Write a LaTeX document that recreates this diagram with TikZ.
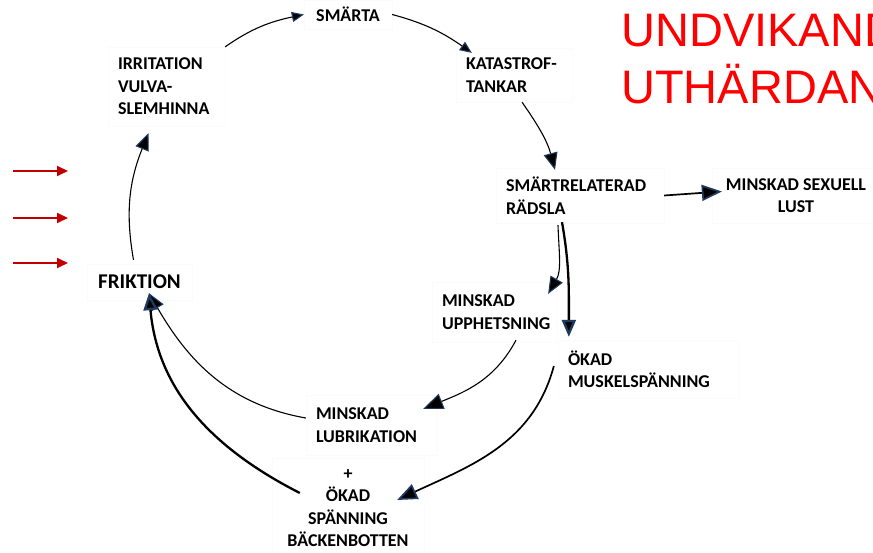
\documentclass[tikz,border=0pt]{standalone}
\usepackage{fontspec}
\setmainfont{Carlito}
\newfontfamily\redfont{Liberation Sans}
\usetikzlibrary{arrows.meta}
\definecolor{tipedge}{HTML}{1F3A5F}
\definecolor{darkred}{HTML}{C00000}
\definecolor{textred}{HTML}{FF0000}
\definecolor{faintedge}{HTML}{FBFBFB}
\tikzset{
  lbl/.style={draw=faintedge, line width=0.3pt, fill=white, font=\fontsize{18}{22.5}\selectfont\bfseries, inner sep=0pt},
  lblleft/.style={lbl, align=left, inner xsep=10pt},
  lblmid/.style={lbl, align=center},
  tipS/.style={-{Triangle[length=12pt,width=10pt,fill=black,color=tipedge]}},
  tipM/.style={-{Triangle[length=17pt,width=14pt,fill=black,color=tipedge]}},
  tipL/.style={-{Triangle[length=20pt,width=16pt,fill=black,color=tipedge]}},
  thinline/.style={line width=1.1pt, black},
  midline/.style={line width=1.7pt, black},
  thickline/.style={line width=2.3pt, black},
  redarrow/.style={line width=2pt, darkred, -{Triangle[length=11pt,width=10pt]}}
}
\begin{document}
\begin{tikzpicture}[x=1pt,y=1pt]
\useasboundingbox (0,0) rectangle (873,552);
\fill[white] (0,0) rectangle (873,552);

% red title (cut by the page edge, as in the reference)
\node[anchor=base west, inner sep=0pt, text=textred, font=\redfont\fontsize{47}{57}\selectfont] (t1) at (621,505) {UNDVIKANDE};
\node[anchor=base west, inner sep=0pt, text=textred, font=\redfont\fontsize{47}{57}\selectfont] (t2) at (621,448) {UTHÄRDANDE};

% nodes
\node[lblmid, minimum width=88pt, minimum height=29pt] (smarta) at (348,537.5) {SMÄRTA};
\node[lblleft, text width=97pt, minimum height=79pt] (irr) at (166.5,465.5) {IRRITATION\\VULVA-\\SLEMHINNA};
\node[lblleft, text width=96pt, minimum height=54pt] (kat) at (514,477) {KATASTROF-\\TANKAR};
\node[lblleft, text width=148pt, minimum height=55pt] (rad) at (580,356.5) {SMÄRTRELATERAD\\RÄDSLA};
\node[lblmid, minimum width=168pt, minimum height=55pt] (lust) at (796,356.5) {MINSKAD SEXUELL\\LUST};
\node[lbl, font=\fontsize{21}{25}\selectfont\bfseries, minimum width=105pt, minimum height=36pt] (frik) at (139.5,270) {FRIKTION};
\node[lblleft, text width=104pt, minimum height=60pt] (upp) at (494,240) {MINSKAD\\UPPHETSNING};
\node[lblleft, text width=160pt, minimum height=58pt] (musk) at (648,183) {ÖKAD\\MUSKELSPÄNNING};
\node[lblleft, text width=111pt, minimum height=60pt] (lub) at (371.5,127) {MINSKAD\\LUBRIKATION};
\node[lblmid, minimum width=152pt, minimum height=100pt] (back) at (348,44) {+\\ÖKAD\\SPÄNNING\\BÄCKENBOTTEN};

% connectors
\draw[thinline, tipS] (irr.north east) to[out=35,in=192] (smarta.west);
\draw[thinline, tipS] (smarta.east) to[out=-15,in=145] ([xshift=16pt,yshift=-5pt]kat.north west);
\draw[thinline, tipM] ([xshift=8pt]kat.south) to[out=-55,in=105] ([xshift=-25pt,yshift=-2pt]rad.north);
\draw[midline, tipL] (rad.east) -- ([xshift=10pt,yshift=4pt]lust.west);
\draw[thinline, tipM] ([xshift=-22pt,yshift=-2pt]rad.south) to[out=-88,in=60] ([xshift=-8pt,yshift=-12pt]upp.north east);
\draw[thickline, tipM] ([xshift=-18pt,yshift=1pt]rad.south) to[out=-80,in=90] ([xshift=11pt,yshift=3pt]musk.north west);
\draw[thinline, tipL] ([xshift=22pt,yshift=2pt]upp.south) to[out=-118,in=22] ([xshift=-14pt,yshift=-14pt]lub.north east);
\draw[thinline, tipM] ([yshift=7pt]lub.west) to[out=170,in=-60] ([xshift=9.5pt,yshift=7pt]frik.south);
\draw[midline, tipL] ([xshift=-4pt,yshift=3pt]musk.west) to[out=-105,in=25] ([xshift=-27pt,yshift=8pt]back.east);
\draw[thickline, tipM] ([xshift=28pt,yshift=15pt]back.west) to[out=153,in=-85] ([xshift=9.5pt,yshift=7pt]frik.south);
\draw[thinline, tipM] ([xshift=-6pt,yshift=4pt]frik.north) to[out=100,in=-112] ([xshift=-18pt,yshift=-7pt]irr.south);

% red arrows
\coordinate (r1s) at (13,381); \coordinate (r1e) at (68,381);
\coordinate (r2s) at (13,334); \coordinate (r2e) at (68,334);
\coordinate (r3s) at (13,289); \coordinate (r3e) at (68,289);
\draw[redarrow] (r1s) -- (r1e);
\draw[redarrow] (r2s) -- (r2e);
\draw[redarrow] (r3s) -- (r3e);
\end{tikzpicture}
\end{document}
